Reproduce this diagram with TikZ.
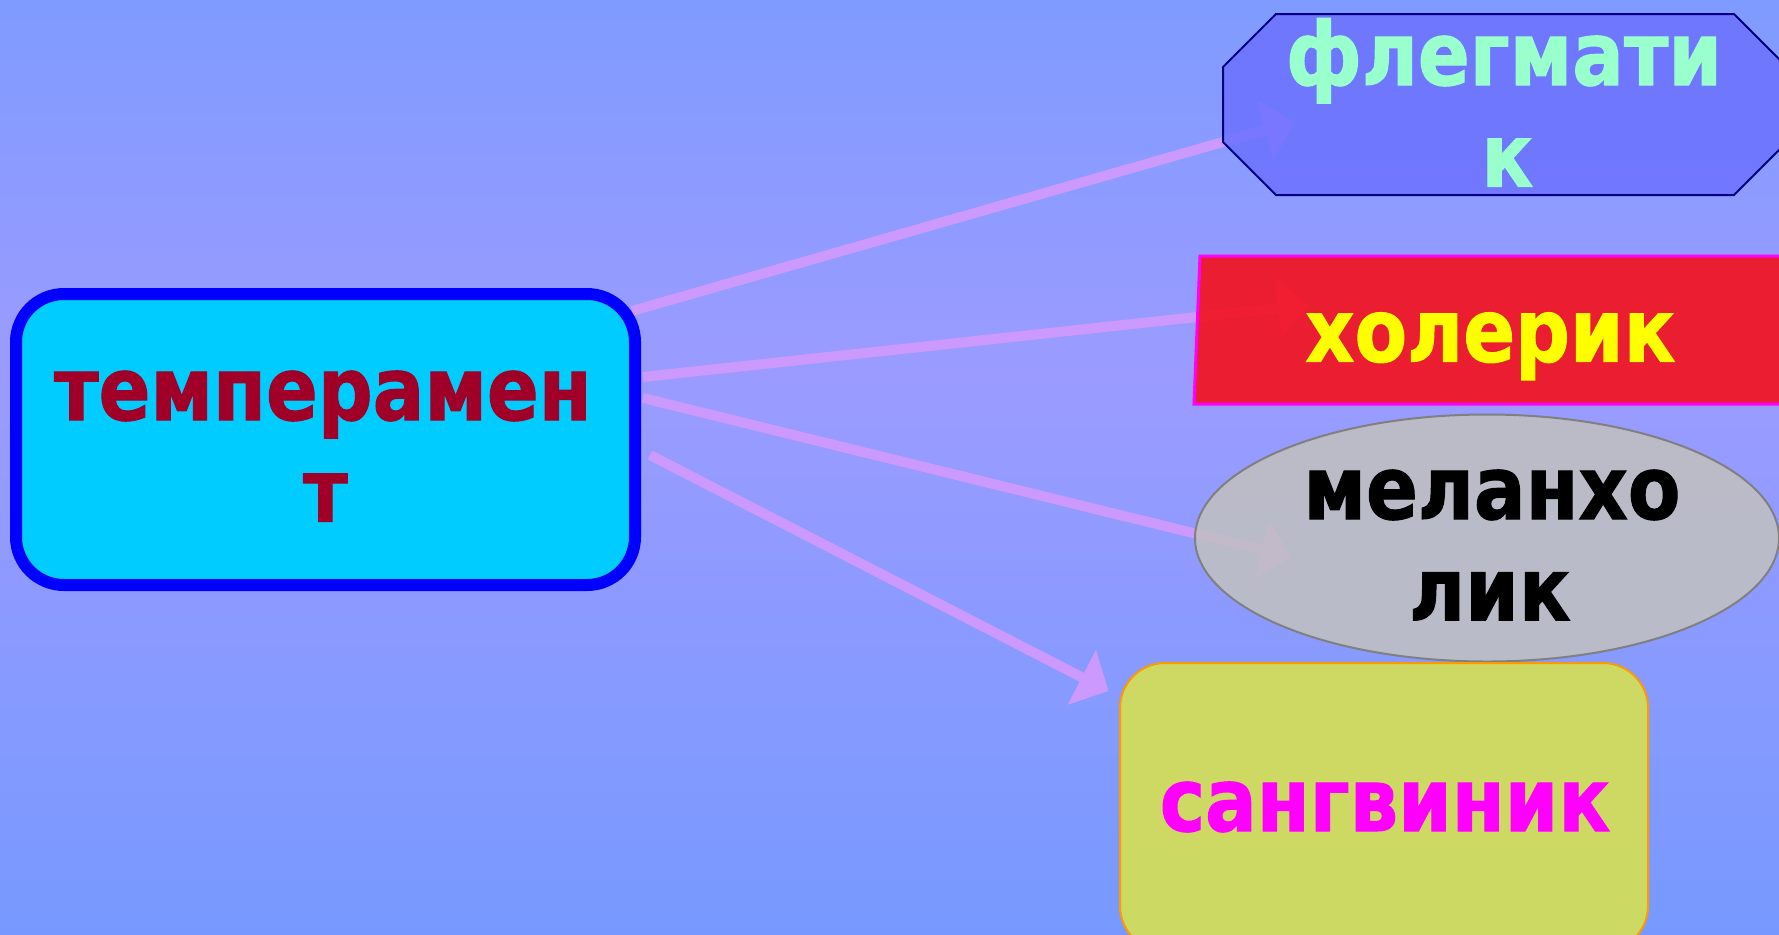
\documentclass[tikz,border=0pt]{standalone}
\usepackage{fontspec}
\newfontfamily\lblfont{DejaVu Sans}[FakeStretch=0.87,FakeBold=1.2]
\usetikzlibrary{shapes.geometric,arrows.meta,calc}
\definecolor{bgtop}{HTML}{7F9BFF}
\definecolor{bgmid}{HTML}{9B9BFF}
\definecolor{bgbot}{HTML}{7799FF}
\definecolor{conncol}{HTML}{CC99FF}
\definecolor{mainfill}{HTML}{00CCFF}
\definecolor{mainline}{HTML}{0000FF}
\definecolor{maintext}{HTML}{A00028}
\definecolor{flegfill}{HTML}{6D72FF}
\definecolor{flegline}{HTML}{000080}
\definecolor{flegtext}{HTML}{99FFCC}
\definecolor{cholfill}{HTML}{F70B13}
\definecolor{cholline}{HTML}{FF00FF}
\definecolor{choltext}{HTML}{FFFF00}
\definecolor{melfill}{HTML}{C1C0C0}
\definecolor{melline}{HTML}{808080}
\definecolor{sangfill}{HTML}{D9E34C}
\definecolor{sangline}{HTML}{FF9900}
\definecolor{sangtext}{HTML}{FF00FF}
\pgfdeclareverticalshading{bgshade}{100bp}{color(0bp)=(bgbot); color(25bp)=(bgbot); color(55bp)=(bgmid); color(75bp)=(bgtop); color(100bp)=(bgtop)}
\pgfdeclarelayer{back}
\pgfdeclarelayer{bg}
\pgfsetlayers{back,bg,main}
\begin{document}
\begin{tikzpicture}[x=0.5pt,y=-0.5pt,
  conn/.style={draw=conncol, line width=5pt, -{Triangle[length=15pt,width=30pt]}},
  lbl/.style={font=\lblfont\bfseries\fontsize{44pt}{50pt}\selectfont, inner sep=0pt, anchor=base},
  frame/.style={rectangle, inner sep=0pt, outer sep=0pt},
  target/.style={line width=1pt, fill opacity=0.87, inner sep=0pt}]
\useasboundingbox (0,0) rectangle (1779,934);
\begin{pgfonlayer}{back}
\shade[shading=bgshade] (0,0) rectangle (1779,934);
\end{pgfonlayer}
% shapes
\node[rectangle, rounded corners=24pt, minimum width=309.5pt, minimum height=145.5pt,
      draw=mainline, line width=6pt, fill=mainfill, inner sep=0pt] (main) at (325.5,439.5) {};
% флегматик: octagon
\node[frame, minimum width=282pt, minimum height=90.5pt] (fleg) at (1505,104.5) {};
\filldraw[target, draw=flegline, fill=flegfill]
  ($(fleg.north west)+(53,0)$) -- ($(fleg.north east)+(-53,0)$) -- ($(fleg.north east)+(0,53)$)
  -- ($(fleg.south east)+(0,-53)$) -- ($(fleg.south east)+(-53,0)$) -- ($(fleg.south west)+(53,0)$)
  -- ($(fleg.south west)+(0,-53)$) -- ($(fleg.north west)+(0,53)$) -- cycle;
% холерик: parallelogram
\node[frame, minimum width=300pt, minimum height=74pt] (chol) at (1494,330) {};
\filldraw[target, draw=cholline, line width=1.5pt, fill=cholfill]
  ($(chol.north west)+(6,0)$) -- ($(chol.north east)+(6,0)$) -- (chol.south east) -- (chol.south west) -- cycle;
\node[target, ellipse, minimum width=292pt, minimum height=123.5pt, draw=melline, fill=melfill] (mel) at (1487,538) {};
\node[target, rectangle, rounded corners=22.5pt, minimum width=264pt, minimum height=144pt,
      draw=sangline, fill=sangfill] (sang) at (1384,807) {};
% connectors
\begin{pgfonlayer}{bg}
\draw[conn] ($(main.east)+(-9,-128.5)$) -- ($(fleg.center)+(-211,17.2)$);
\draw[conn] ($(main.east)+(2,-62.5)$) -- ($(chol.center)+(-186,-25)$);
\draw[conn] ($(main.east)+(2,-41.5)$) -- ($(mel.center)+(-196,19)$);
\draw[conn] ($(main.east)+(9,15.5)$) -- ($(sang.center)+(-275.5,-116)$);
\end{pgfonlayer}
% texts
\node[lbl, text=maintext] (mainA) at (323,420) {темперамен};
\node[lbl, text=maintext] (mainB) at (325.4,521.7) {т};
\node[lbl, text=flegtext] (flegA) at (1504,85) {флегмати};
\node[lbl, text=flegtext] (flegB) at (1507.4,186.7) {к};
\node[lbl, text=choltext] (cholA) at (1490.4,361.7) {холерик};
\node[lbl, text=black] (melA) at (1492,519) {меланхо};
\node[lbl, text=black] (melB) at (1490,620.4) {лик};
\node[lbl, text=sangtext] (sangA) at (1385,831) {сангвиник};
\end{tikzpicture}
\end{document}
